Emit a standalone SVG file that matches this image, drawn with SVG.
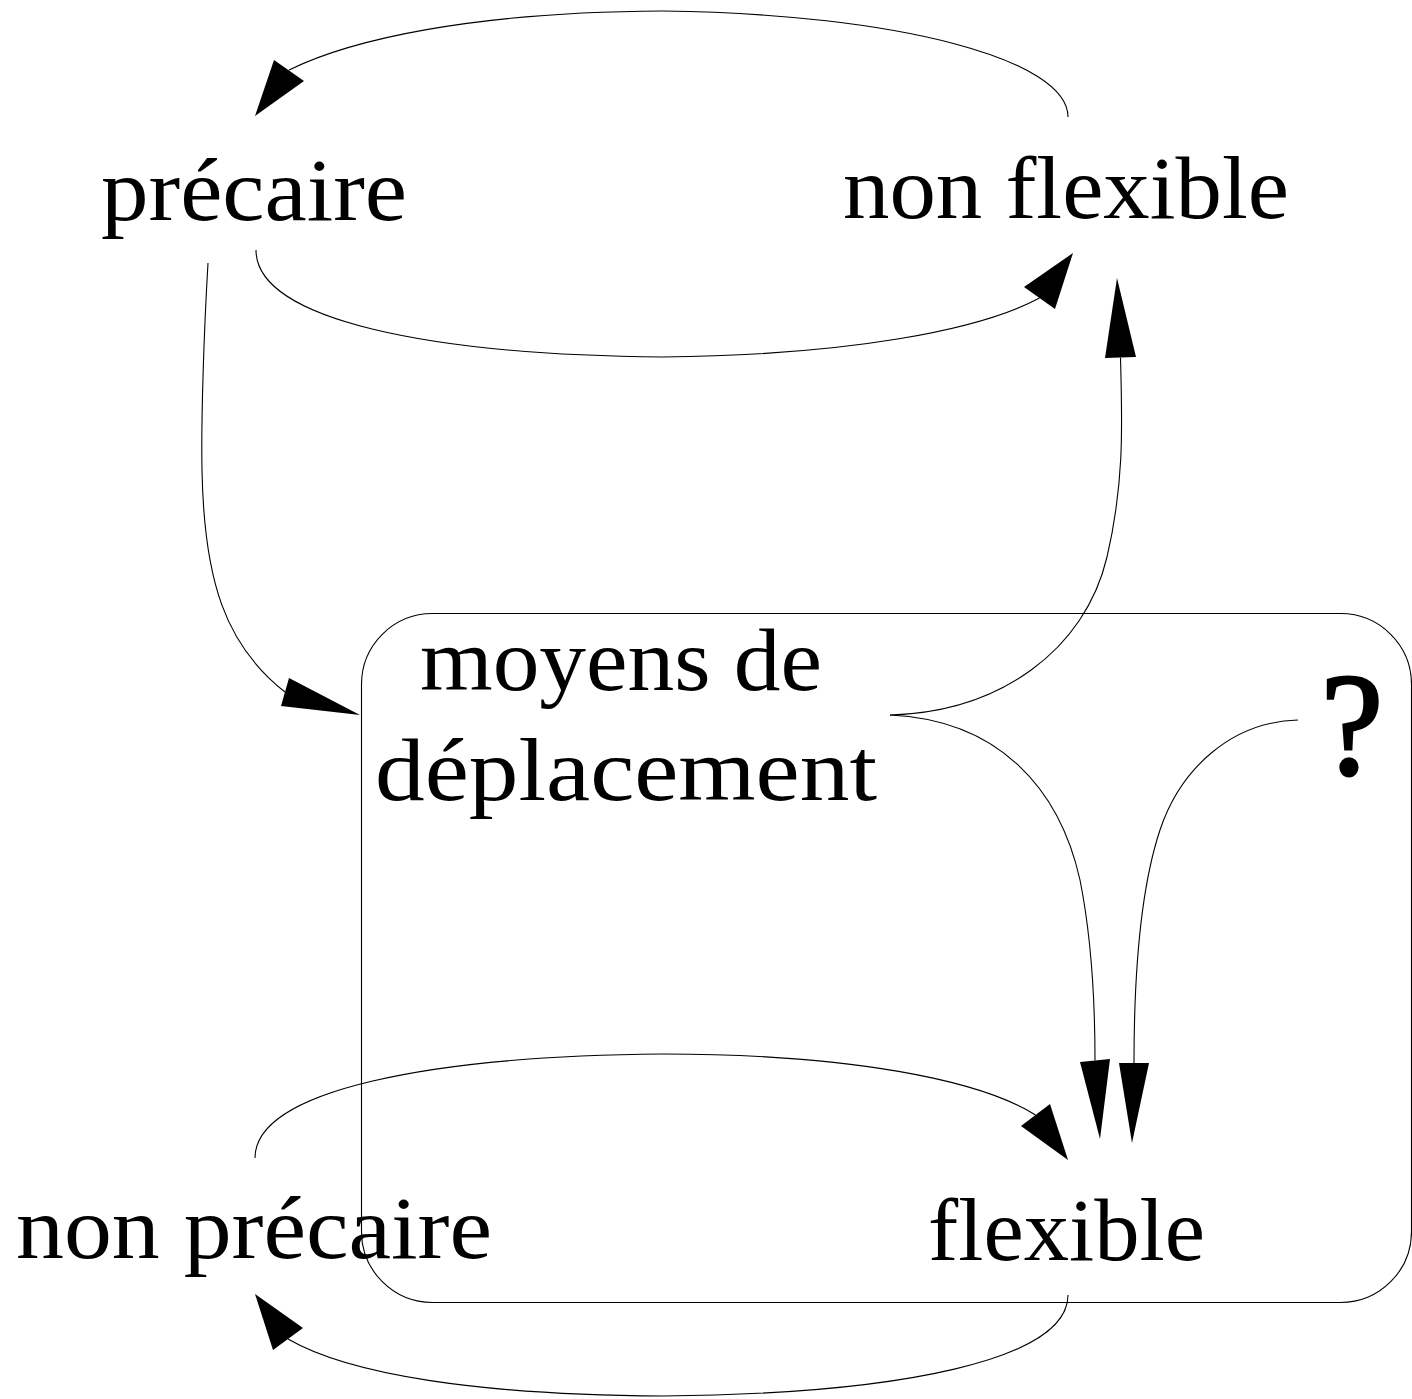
<svg xmlns="http://www.w3.org/2000/svg" width="1412" height="1399" viewBox="0 0 1412 1399">
<style>
.lbl{font-family:"Liberation Serif","DejaVu Serif",serif;font-size:88px;fill:#000}
.q{font-family:"Liberation Serif","DejaVu Serif",serif;font-size:146px;fill:#000;stroke:#000;stroke-width:3}
.c{fill:none;stroke:#000;stroke-width:1.1}
.ah{fill:#000;stroke:none}
.box{fill:none;stroke:#000;stroke-width:1.1}
</style>
<rect width="1412" height="1399" fill="#fff"/>
<g id="node-moyens">
<rect class="box" x="361.5" y="613.5" width="1050" height="689" rx="71" ry="71"/>
<text class="lbl" x="420" y="690" textLength="402" lengthAdjust="spacingAndGlyphs">moyens de</text>
<text class="lbl" x="375" y="800" textLength="502" lengthAdjust="spacingAndGlyphs">déplacement</text>
</g>
<g id="node-precaire">
<text class="lbl" x="101" y="220" textLength="306" lengthAdjust="spacingAndGlyphs">précaire</text>
</g>
<g id="node-nonflexible">
<text class="lbl" x="843" y="218" textLength="446" lengthAdjust="spacingAndGlyphs">non flexible</text>
</g>
<g id="node-nonprecaire">
<text class="lbl" x="16" y="1258" textLength="476" lengthAdjust="spacingAndGlyphs">non précaire</text>
</g>
<g id="node-flexible">
<text class="lbl" x="928" y="1260" textLength="277" lengthAdjust="spacingAndGlyphs">flexible</text>
</g>
<g id="node-question">
<text class="q" x="1321" y="774" textLength="62" lengthAdjust="spacingAndGlyphs">?</text>
</g>
<g id="connectors">
<path class="c" d="M1068,117 C1068,60 900,14 663,11 C470,12 350,40 289,70"/>
<polygon class="ah" points="255,116 274,60 304,81"/>
<path class="c" d="M256,250 C256,320 430,355 663,357 C850,355 980,330 1039.5,298"/>
<polygon class="ah" points="1073,253 1024,287 1055,309"/>
<path class="c" d="M890,715 C1000,712 1085,650 1107,557 C1125,480 1122,420 1120.5,357.5"/>
<polygon class="ah" points="1117,278 1105,358 1136,357"/>
<path class="c" d="M208,263 C204,330 201,420 202,470 C204,580 225,645 285,692"/>
<polygon class="ah" points="360,715 289,678 281,706"/>
<path class="c" d="M890,715 C1000,720 1060,790 1080,880 C1092,940 1095,1000 1095,1060.5"/>
<polygon class="ah" points="1100,1139 1080,1062 1110,1059"/>
<path class="c" d="M1298,720 C1230,722 1180,770 1160,830 C1140,890 1134,980 1134,1063"/>
<polygon class="ah" points="1132,1143 1119,1063 1149,1063"/>
<path class="c" d="M255,1158 C255,1090 430,1056 663,1054 C850,1054 980,1080 1035.5,1115"/>
<polygon class="ah" points="1068,1160 1021,1126 1050,1104"/>
<path class="c" d="M1068,1295 C1068,1360 900,1394 663,1396 C480,1395 350,1375 288,1339"/>
<polygon class="ah" points="255,1294 273,1350 303,1328"/>
</g>
</svg>
